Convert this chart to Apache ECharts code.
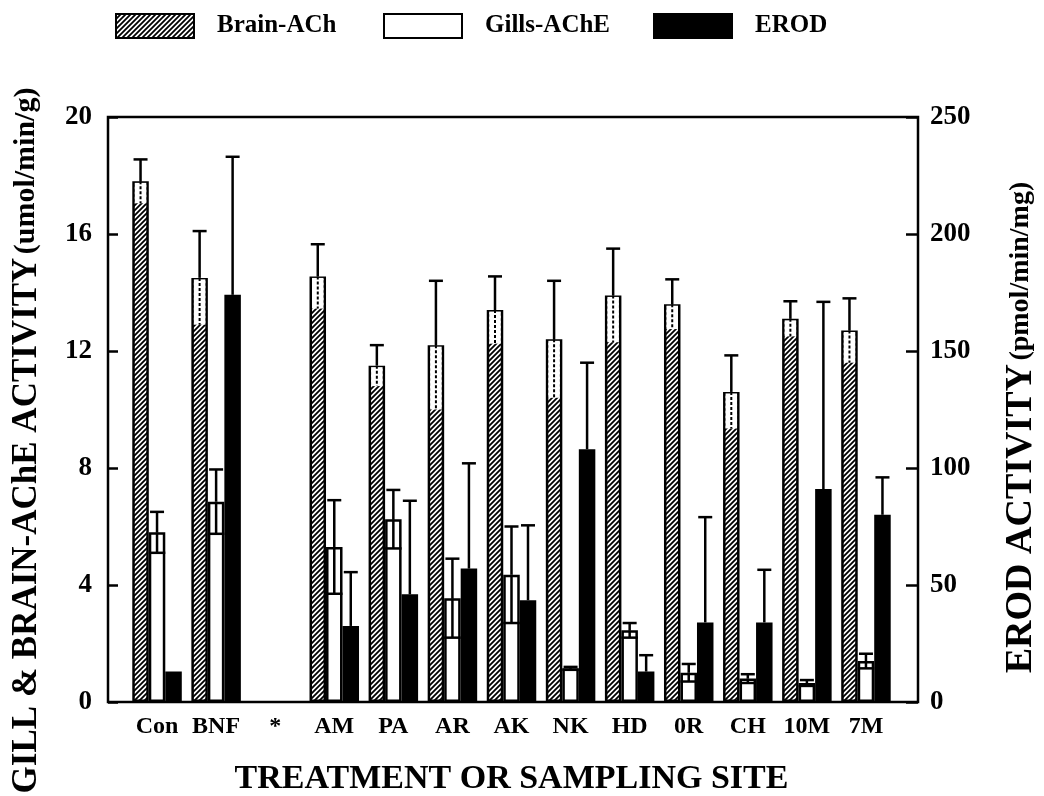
<!DOCTYPE html>
<html>
<head>
<meta charset="utf-8">
<script src="https://cdn.jsdelivr.net/npm/echarts@6/dist/echarts.min.js"></script>
<style>
  html, body { margin: 0; padding: 0; background: #fff; }
  #chart { width: 1044px; height: 796px; }
</style>
</head>
<body>
<div id="chart"></div>
<script>
// data
const categories = ['Con', 'BNF', '*', 'AM', 'PA', 'AR', 'AK', 'NK', 'HD', '0R', 'CH', '10M', '7M'];
const brain   = [17.8, 14.5, null, 14.55, 11.5, 12.2, 13.4, 12.4, 13.9, 13.6, 10.6, 13.1, 12.7];
const brainSd = [0.75, 1.6, null, 1.1, 0.7, 2.2, 1.15, 2.0, 1.6, 0.85, 1.25, 0.6, 1.1];
const gill    = [5.8, 6.85, null, 5.3, 6.25, 3.55, 4.35, 1.15, 2.45, 1.0, 0.8, 0.65, 1.4];
const gillSd  = [0.7, 1.1, null, 1.6, 1.0, 1.35, 1.65, 0.05, 0.25, 0.3, 0.15, 0.1, 0.25];
const erod    = [13, 174, null, 32.5, 46, 57, 43.5, 108, 13, 34, 34, 91, 80];
const erodSd  = [0, 59, null, 23, 40, 45, 32, 37, 7, 45, 22.5, 80, 16];

const FONT = 'Liberation Serif';
const BW = 16.5;   // bar width
const CAP = 14;    // error cap width

// diagonal hatch for brain bars
function hatchPattern() {
    const c = document.createElement('canvas');
    c.width = 5; c.height = 5;
    const g = c.getContext('2d');
    g.fillStyle = '#fff';
    g.fillRect(0, 0, 5, 5);
    g.strokeStyle = '#000';
    g.lineWidth = 1.8;
    g.beginPath();
    g.moveTo(0, 5); g.lineTo(5, 0);
    g.moveTo(-1, 1); g.lineTo(1, -1);
    g.moveTo(4, 6); g.lineTo(6, 4);
    g.stroke();
    return c;
}
const hatch = {image: hatchPattern(), repeat: 'repeat'};

function errData(vals, sds) {
    let out = [];
    for (let i = 0; i < vals.length; i++) {
        if (vals[i] != null) out.push([i, vals[i], sds[i]]);
    }
    return out;
}

// error bars drawn on top of the bars
function errRender(slot, kind) {
    return function (params, api) {
        const i = api.value(0), v = api.value(1), sd = api.value(2);
        const p = api.coord([i, v]);
        const x = p[0] + (slot - 1) * BW;
        const yTop = api.coord([i, v + sd])[1];
        const yLow = api.coord([i, Math.max(v - sd, 0)])[1];
        const st = {stroke: '#000', lineWidth: 2.5};
        let children = [];
        if (sd <= 0) return {type: 'group', children: children};
        if (kind === 'brain') {
            children.push({type: 'rect', shape: {x: x - BW / 2 + 2.5, y: p[1] + 1.5, width: BW - 5, height: yLow - p[1] - 1.5}, style: {fill: '#fff'}});
            children.push({type: 'line', shape: {x1: x, y1: p[1], x2: x, y2: yLow}, style: {stroke: '#000', lineWidth: 2, lineDash: [3, 2]}});
        }
        if (kind === 'gill') {
            children.push({type: 'line', shape: {x1: x, y1: p[1], x2: x, y2: yLow}, style: st});
            children.push({type: 'line', shape: {x1: x - BW / 2, y1: yLow, x2: x + BW / 2, y2: yLow}, style: st});
        }
        children.push({type: 'line', shape: {x1: x, y1: p[1], x2: x, y2: yTop}, style: st});
        children.push({type: 'line', shape: {x1: x - CAP / 2, y1: yTop, x2: x + CAP / 2, y2: yTop}, style: st});
        return {type: 'group', children: children};
    };
}

const legendText = {fontFamily: FONT, fontWeight: 'bold', fontSize: 25, color: '#000', padding: [0, 0, 0, 18]};
function legendAt(name, left) {
    return {
        data: [name], left: left, top: 8, itemWidth: 78, itemHeight: 24,
        icon: 'rect', textStyle: legendText, selectedMode: false
    };
}

let chart = echarts.init(document.getElementById('chart'));
let option = {
    animation: false,
    backgroundColor: '#fff',
    legend: [
        legendAt('Brain-ACh', 110),
        legendAt('Gills-AChE', 378),
        legendAt('EROD', 648)
    ],
    grid: [
        {left: 127.5, right: 148.5, top: 117, bottom: 94, outerBoundsMode: 'none', containLabel: false},
        {left: 108, right: 126, top: 117, bottom: 94, outerBoundsMode: 'none', containLabel: false,
         show: true, borderColor: '#000', borderWidth: 2.5, backgroundColor: 'transparent'}
    ],
    xAxis: [
        {
            gridIndex: 0, type: 'category', data: categories,
            axisLine: {show: false}, axisTick: {show: false},
            axisLabel: {interval: 0, hideOverlap: false, fontFamily: FONT, fontWeight: 'bold', fontSize: 24, color: '#000', margin: 13},
            name: 'TREATMENT OR SAMPLING SITE', nameLocation: 'middle', nameGap: 60,
            nameTextStyle: {fontFamily: FONT, fontWeight: 'bold', fontSize: 34, color: '#000'}
        },
        {gridIndex: 1, type: 'value', show: false}
    ],
    yAxis: [
        {gridIndex: 0, type: 'value', min: 0, max: 20, show: false},
        {gridIndex: 0, type: 'value', min: 0, max: 250, show: false},
        {
            gridIndex: 1, type: 'value', position: 'left', min: 0, max: 20, interval: 4,
            axisLine: {show: false},
            axisTick: {show: true, inside: true, length: 10, lineStyle: {color: '#000', width: 2.5}},
            axisLabel: {fontFamily: FONT, fontWeight: 'bold', fontSize: 27, color: '#000', margin: 16},
            splitLine: {show: false},
            name: '{a|GILL & BRAIN-AChE ACTIVITY} {b|(umol/min/g)}',
            nameLocation: 'middle', nameRotate: 90, nameGap: 64,
            nameTextStyle: {
                padding: [0, 62, 0, 0],
                rich: {
                    a: {fontFamily: FONT, fontWeight: 'bold', fontSize: 35, color: '#000'},
                    b: {fontFamily: FONT, fontWeight: 'bold', fontSize: 30, color: '#000'}
                }
            }
        },
        {
            gridIndex: 1, type: 'value', position: 'right', min: 0, max: 250, interval: 50,
            axisLine: {show: false},
            axisTick: {show: true, inside: true, length: 12, lineStyle: {color: '#000', width: 2.5}},
            axisLabel: {fontFamily: FONT, fontWeight: 'bold', fontSize: 27, color: '#000', margin: 12},
            splitLine: {show: false},
            name: '{a|EROD ACTIVITY} {b|(pmol/min/mg)}',
            nameLocation: 'middle', nameRotate: 90, nameGap: 84,
            nameTextStyle: {
                padding: [0, 36, 0, 0],
                rich: {
                    a: {fontFamily: FONT, fontWeight: 'bold', fontSize: 38, color: '#000'},
                    b: {fontFamily: FONT, fontWeight: 'bold', fontSize: 28, color: '#000'}
                }
            }
        }
    ],
    series: [
        {
            name: 'Brain-ACh', type: 'bar', xAxisIndex: 0, yAxisIndex: 0,
            data: brain, barWidth: BW, barGap: '0%',
            itemStyle: {color: hatch, borderColor: '#000', borderWidth: 2.5}
        },
        {
            name: 'Gills-AChE', type: 'bar', xAxisIndex: 0, yAxisIndex: 0,
            data: gill, barWidth: BW, barGap: '0%',
            itemStyle: {color: '#fff', borderColor: '#000', borderWidth: 2.5}
        },
        {
            name: 'EROD', type: 'bar', xAxisIndex: 0, yAxisIndex: 1,
            data: erod, barWidth: BW, barGap: '0%',
            itemStyle: {color: '#000', borderColor: '#000', borderWidth: 2.5}
        },
        {
            type: 'custom', xAxisIndex: 0, yAxisIndex: 0, z: 5,
            data: errData(brain, brainSd), renderItem: errRender(0, 'brain'), encode: {x: 0, y: 1}
        },
        {
            type: 'custom', xAxisIndex: 0, yAxisIndex: 0, z: 5,
            data: errData(gill, gillSd), renderItem: errRender(1, 'gill'), encode: {x: 0, y: 1}
        },
        {
            type: 'custom', xAxisIndex: 0, yAxisIndex: 1, z: 5,
            data: errData(erod, erodSd), renderItem: errRender(2, 'erod'), encode: {x: 0, y: 1}
        }
    ]
};
chart.setOption(option);
</script>
</body>
</html>
